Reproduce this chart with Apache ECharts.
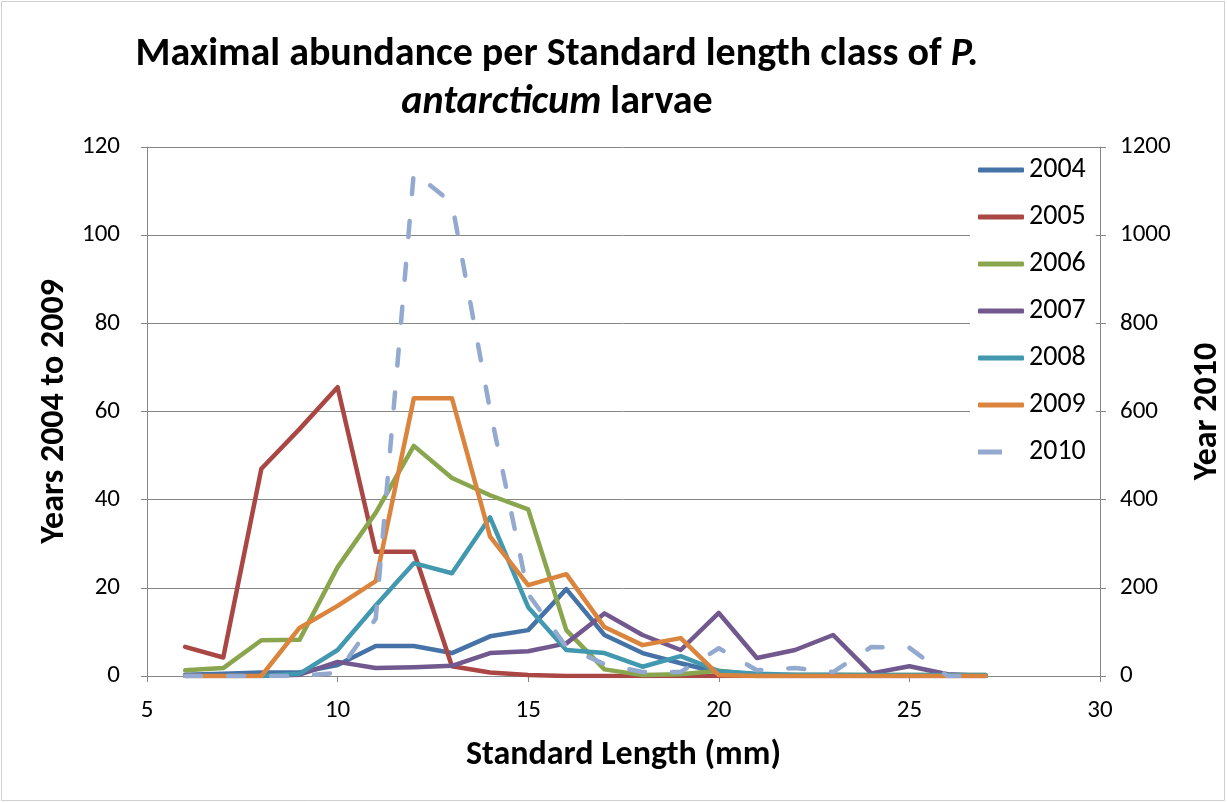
<!DOCTYPE html>
<html><head><meta charset="utf-8">
<script src="https://cdn.jsdelivr.net/npm/echarts@6/dist/echarts.min.js"></script>
<style>html,body{margin:0;padding:0;background:#fff}#c{width:1227px;height:803px}</style>
</head><body><div id="c"></div>
<script>
const lengths = [6,7,8,9,10,11,12,13,14,15,16,17,18,19,20,21,22,23,24,25,26,27];
const y2004 = [0.3,0.5,0.8,0.8,2.5,6.8,6.8,5.2,9,10.4,19.7,9.3,5.2,2.9,0.8,0,0,0,0,0,0,0];
const y2005 = [6.6,4.2,47,56,65.5,28.2,28.2,2.2,0.8,0.2,0,0,0,0,0,0,0,0,0,0,0,0];
const y2006 = [1.3,1.8,8.1,8.2,24.7,37,52.2,44.9,41,37.8,10.4,1.5,0.2,0.4,1.2,0.3,0.2,0.2,0.2,0.2,0.2,0.2];
const y2007 = [0,0,0,0.3,3.2,1.8,2,2.3,5.2,5.6,7.4,14.2,9.3,5.9,14.3,4.1,5.9,9.3,0.6,2.2,0.4,0];
const y2008 = [0,0,0,0.5,5.9,16,25.6,23.3,36,15.6,5.9,5.2,2.1,4.5,1.1,0.5,0.3,0.3,0.2,0.2,0.2,0.2];
const y2009 = [0,0,0,10.9,15.9,21.5,63,63,31.6,20.6,23.1,11.1,7,8.6,0.2,0,0,0,0,0,0,0];
const y2010 = [0,0,0,0,7,130,1143,1073,603,186,66,27,9,9,63,13,18,9,66,64,0,0];
const xTicks = [5,10,15,20,25,30];
const leftTicks = [0,20,40,60,80,100,120];
const rightTicks = [0,200,400,600,800,1000,1200];
const seriesNames = ['2004','2005','2006','2007','2008','2009','2010'];

const pairs = arr => lengths.map((x,i)=>[x,arr[i]]);
const font = 'Carlito, "Liberation Sans", Arial, sans-serif';
const series = [
  ['2004', y2004, '#4572A7'],
  ['2005', y2005, '#AA4643'],
  ['2006', y2006, '#89A54E'],
  ['2007', y2007, '#71588F'],
  ['2008', y2008, '#4198AF'],
  ['2009', y2009, '#DB843D'],
].map(([n,d,c])=>({name:n,type:'line',data:pairs(d),yAxisIndex:0,symbol:'none',
  lineStyle:{color:c,width:4.5,cap:'round',join:'round'},itemStyle:{color:c}}));
series.push({name:'2010',type:'line',data:pairs(y2010),yAxisIndex:1,symbol:'none',
  lineStyle:{color:'#93A9CF',width:4.5,type:[16,27],cap:'round',join:'round'},itemStyle:{color:'#93A9CF'}});

const chart = echarts.init(document.getElementById('c'));
chart.setOption({
  animation:false,
  backgroundColor:'#fff',
  title:{
    text:'{b|Maximal abundance per Standard length class of }{bi|P.}\n{bi|antarcticum}{b| larvae}',
    left:552, top:26, textAlign:'center',
    textStyle:{rich:{
      b:{fontFamily:font,fontWeight:'bold',fontSize:40,color:'#000',lineHeight:48},
      bi:{fontFamily:font,fontWeight:'bold',fontStyle:'italic',fontSize:40,color:'#000',lineHeight:48}
    }}
  },
  legend:{
    orient:'vertical', left:970, top:150, itemGap:19, itemWidth:46, itemHeight:5,
    backgroundColor:'#fff', padding:[6,10,30,8],
    textStyle:{fontFamily:font,fontSize:28,lineHeight:28,color:'#000'},
    data:seriesNames.map(n=>n==='2010'
      ? {name:n,icon:'path://M0,0L24,0L24,5L0,5Z M45.9,2.4L46,2.4L46,2.6L45.9,2.6Z'}
      : {name:n,icon:'roundRect'})
  },
  grid:{left:147,right:127,top:147,bottom:127,containLabel:false,outerBoundsMode:'none'},
  xAxis:{type:'value',min:5,max:30,interval:5,
    name:'Standard Length (mm)',nameLocation:'middle',nameGap:62,
    nameTextStyle:{fontFamily:font,fontWeight:'bold',fontSize:34,color:'#000'},
    axisLine:{show:true,lineStyle:{color:'#868686',width:1}},
    axisTick:{show:true,length:6,lineStyle:{color:'#868686'}},
    axisLabel:{fontFamily:font,fontSize:25,color:'#000',margin:22,formatter:v=>xTicks.includes(v)?String(v):''},
    splitLine:{show:false}},
  yAxis:[
    {type:'value',min:0,max:120,interval:20,position:'left',
     name:'Years 2004 to 2009',nameLocation:'middle',nameGap:75,nameRotate:90,
     nameTextStyle:{fontFamily:font,fontWeight:'bold',fontSize:34,color:'#000'},
     axisLine:{show:true,lineStyle:{color:'#868686'}},
     axisTick:{show:true,length:6,lineStyle:{color:'#868686'}},
     axisLabel:{fontFamily:font,fontSize:25,color:'#000',margin:27,formatter:v=>leftTicks.includes(v)?String(v):''},
     splitLine:{show:true,lineStyle:{color:'#868686',width:1}}},
    {type:'value',min:0,max:1200,interval:200,position:'right',
     name:'Year 2010',nameLocation:'middle',nameGap:90,nameRotate:90,
     nameTextStyle:{fontFamily:font,fontWeight:'bold',fontSize:34,color:'#000'},
     axisLine:{show:true,lineStyle:{color:'#868686'}},
     axisTick:{show:true,length:6,lineStyle:{color:'#868686'}},
     axisLabel:{fontFamily:font,fontSize:25,color:'#000',margin:20,formatter:v=>rightTicks.includes(v)?String(v):''},
     splitLine:{show:false}}
  ],
  graphic:[{type:'rect',shape:{x:1.5,y:1.5,width:1223,height:799},style:{fill:'none',stroke:'#d0d0d0',lineWidth:1},silent:true}],
  series:series
});
</script></body></html>
